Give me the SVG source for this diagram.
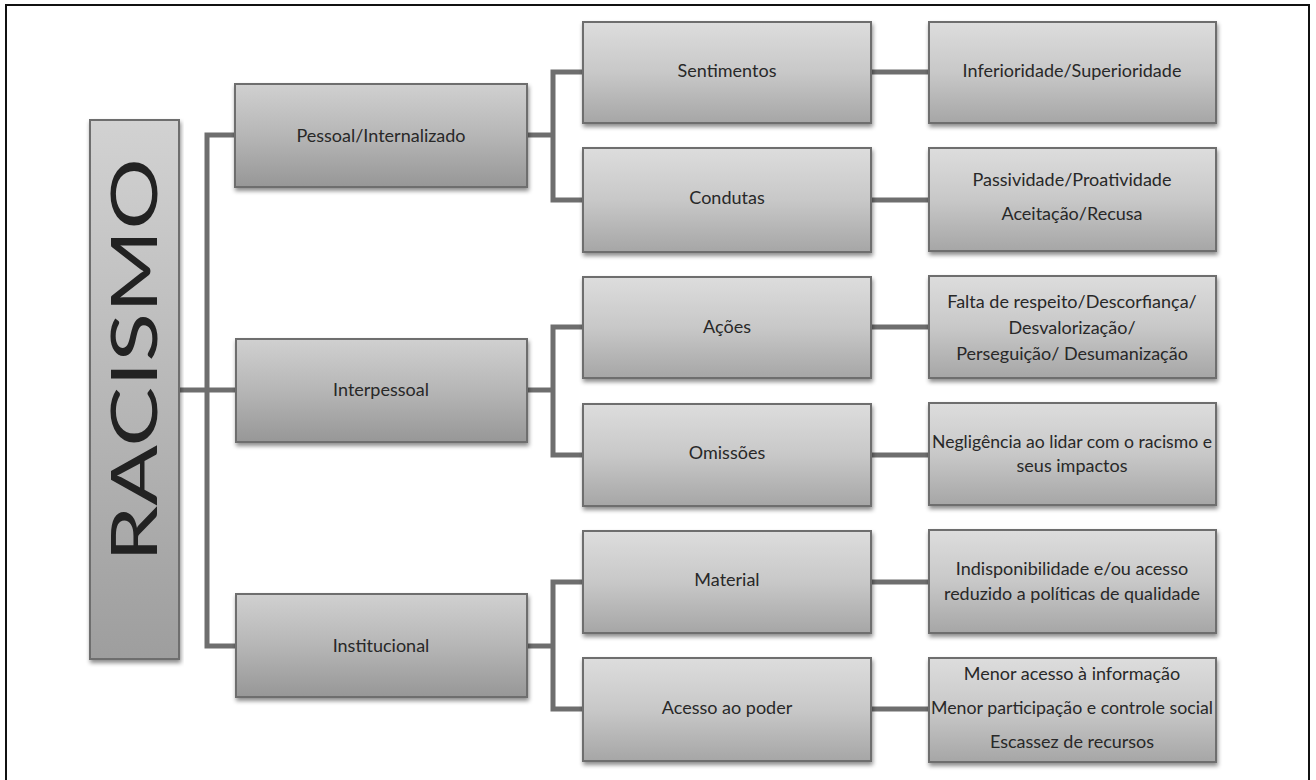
<svg xmlns="http://www.w3.org/2000/svg" width="1316" height="780" viewBox="0 0 1316 780">
  <defs>
    <linearGradient id="gRoot" x1="0" y1="0" x2="0" y2="1">
      <stop offset="0" stop-color="#d2d2d2"/>
      <stop offset="1" stop-color="#9e9e9e"/>
    </linearGradient>
    <linearGradient id="gL1" x1="0" y1="0" x2="0" y2="1">
      <stop offset="0" stop-color="#d0d0d0"/>
      <stop offset="0.5" stop-color="#b6b6b6"/>
      <stop offset="1" stop-color="#979797"/>
    </linearGradient>
    <linearGradient id="gL2" x1="0" y1="0" x2="0" y2="1">
      <stop offset="0" stop-color="#dddddd"/>
      <stop offset="0.5" stop-color="#c8c8c8"/>
      <stop offset="1" stop-color="#a6a6a6"/>
    </linearGradient>
    <filter id="shadow" x="-5%" y="-10%" width="110%" height="130%">
      <feDropShadow dx="1" dy="3" stdDeviation="2" flood-color="#000" flood-opacity="0.45"/>
    </filter>
    <style>
      .box { stroke: #6e6e6e; stroke-width: 2; filter: url(#shadow); }
      .l1 { fill: url(#gL1); }
      .l2 { fill: url(#gL2); }
      .root { fill: url(#gRoot); }
      .lbl { font-family: Lato, "Open Sans", sans-serif; font-size: 18px; fill: #282828; text-anchor: middle; }
      .big { font-family: Lato, "Open Sans", sans-serif; font-size: 63px; fill: #222; text-anchor: middle; }
      .conn { fill: none; stroke: #6e6e6e; stroke-width: 5; stroke-linejoin: miter; stroke-linecap: butt; }
    </style>
  </defs>

  <rect width="1316" height="780" fill="#fff"/>
  <!-- outer frame (bottom edge runs past the page) -->
  <rect x="6" y="5" width="1303" height="800" fill="none" stroke="#111" stroke-width="2"/>

  <!-- connectors -->
  <g id="connectors" class="conn">
    <path d="M180 390 H235"/>
    <path d="M235 135 H207 V646 H235"/>
    <path d="M527 135 H553"/>
    <path d="M583 72 H553 V200 H583"/>
    <path d="M527 390 H553"/>
    <path d="M583 327 H553 V455 H583"/>
    <path d="M527 646 H553"/>
    <path d="M583 582 H553 V709 H583"/>
    <path d="M871 72 H929"/>
    <path d="M871 200 H929"/>
    <path d="M871 327 H929"/>
    <path d="M871 455 H929"/>
    <path d="M871 582 H929"/>
    <path d="M871 709 H929"/>
  </g>

  <g id="node-racismo">
    <rect class="box root" x="90" y="120" width="89" height="539"/>
    <text class="big" transform="translate(157 360) rotate(-90)" textLength="404" lengthAdjust="spacingAndGlyphs">RACISMO</text>
  </g>

  <g id="node-pessoal">
    <rect class="box l1" x="235" y="84" width="292" height="103"/>
    <text class="lbl" x="381" y="142">Pessoal/Internalizado</text>
  </g>
  <g id="node-interpessoal">
    <rect class="box l1" x="236" y="339" width="291" height="103"/>
    <text class="lbl" x="381" y="396">Interpessoal</text>
  </g>
  <g id="node-institucional">
    <rect class="box l1" x="236" y="594" width="291" height="103"/>
    <text class="lbl" x="381" y="652">Institucional</text>
  </g>

  <g id="node-sentimentos">
    <rect class="box l2" x="583" y="22" width="288" height="101"/>
    <text class="lbl" x="727" y="77">Sentimentos</text>
  </g>
  <g id="node-condutas">
    <rect class="box l2" x="583" y="148" width="288" height="104"/>
    <text class="lbl" x="727" y="204">Condutas</text>
  </g>
  <g id="node-acoes">
    <rect class="box l2" x="583" y="277" width="288" height="101"/>
    <text class="lbl" x="727" y="333">Ações</text>
  </g>
  <g id="node-omissoes">
    <rect class="box l2" x="583" y="404" width="288" height="102"/>
    <text class="lbl" x="727" y="459">Omissões</text>
  </g>
  <g id="node-material">
    <rect class="box l2" x="583" y="531" width="288" height="102"/>
    <text class="lbl" x="727" y="586">Material</text>
  </g>
  <g id="node-acesso-poder">
    <rect class="box l2" x="583" y="658" width="288" height="103"/>
    <text class="lbl" x="727" y="714">Acesso ao poder</text>
  </g>

  <g id="node-inferioridade">
    <rect class="box l2" x="929" y="22" width="287" height="101"/>
    <text class="lbl" x="1072" y="77">Inferioridade/Superioridade</text>
  </g>
  <g id="node-passividade">
    <rect class="box l2" x="929" y="148" width="287" height="103"/>
    <text class="lbl" x="1072" y="186">Passividade/Proatividade</text>
    <text class="lbl" x="1072" y="220">Aceitação/Recusa</text>
  </g>
  <g id="node-falta-respeito">
    <rect class="box l2" x="929" y="276" width="287" height="102"/>
    <text class="lbl" x="1072" y="308">Falta de respeito/Descorfiança/</text>
    <text class="lbl" x="1072" y="334">Desvalorização/</text>
    <text class="lbl" x="1072" y="360">Perseguição/ Desumanização</text>
  </g>
  <g id="node-negligencia">
    <rect class="box l2" x="929" y="403" width="287" height="102"/>
    <text class="lbl" x="1072" y="448" textLength="280" lengthAdjust="spacingAndGlyphs">Negligência ao lidar com o racismo e</text>
    <text class="lbl" x="1072" y="472">seus impactos</text>
  </g>
  <g id="node-indisponibilidade">
    <rect class="box l2" x="929" y="530" width="287" height="103"/>
    <text class="lbl" x="1072" y="575">Indisponibilidade e/ou acesso</text>
    <text class="lbl" x="1072" y="600" textLength="256" lengthAdjust="spacingAndGlyphs">reduzido a políticas de qualidade</text>
  </g>
  <g id="node-menor-acesso">
    <rect class="box l2" x="929" y="658" width="287" height="104"/>
    <text class="lbl" x="1072" y="680">Menor acesso à informação</text>
    <text class="lbl" x="1072" y="714" textLength="282" lengthAdjust="spacingAndGlyphs">Menor participação e controle social</text>
    <text class="lbl" x="1072" y="748">Escassez de recursos</text>
  </g>
</svg>
